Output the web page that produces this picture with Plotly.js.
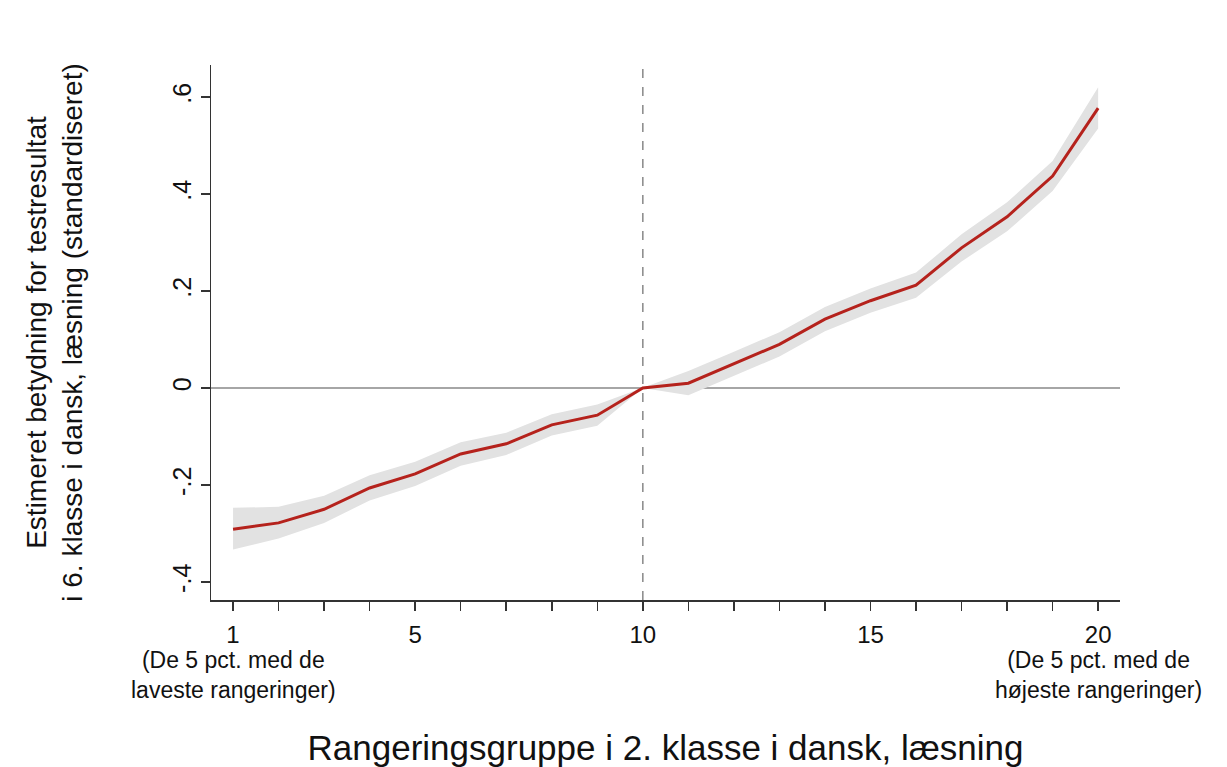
<!DOCTYPE html>
<html>
<head>
<meta charset="utf-8">
<script src="https://cdn.plot.ly/plotly-3.0.1.min.js"></script>
<style>html,body{margin:0;padding:0;background:#fff;}#chart{width:1227px;height:767px;}</style>
</head>
<body>
<div id="chart"></div>
<script>
const groups = [1,2,3,4,5,6,7,8,9,10,11,12,13,14,15,16,17,18,19,20];
const estimate = [-0.291,-0.278,-0.25,-0.206,-0.177,-0.136,-0.115,-0.076,-0.056,0,0.01,0.05,0.09,0.142,0.18,0.212,0.289,0.353,0.437,0.577];
const upper = [-0.247,-0.245,-0.222,-0.18,-0.152,-0.112,-0.092,-0.054,-0.034,0,0.035,0.075,0.115,0.167,0.205,0.238,0.317,0.383,0.468,0.62];
const lower = [-0.333,-0.31,-0.278,-0.232,-0.202,-0.16,-0.138,-0.098,-0.078,0,-0.015,0.025,0.065,0.117,0.155,0.186,0.261,0.323,0.406,0.535];
const yTickVals = [-0.4,-0.2,0,0.2,0.4,0.6];
const yTickText = ['-.4','-.2','0','.2','.4','.6'];
const xLabels = {1:'1',5:'5',10:'10',15:'15',20:'20'};
const xTickText = groups.map(g => xLabels[g] || '');
const lowNote = '(De 5 pct. med de<br>laveste rangeringer)';
const highNote = '(De 5 pct. med de<br>højeste rangeringer)';

const font = 'Liberation Sans, Arial, sans-serif';
const traces = [
  {x: groups, y: lower, mode:'lines', line:{width:0}, hoverinfo:'skip', showlegend:false},
  {x: groups, y: upper, mode:'lines', line:{width:0}, fill:'tonexty', fillcolor:'#e2e2e2', hoverinfo:'skip', showlegend:false},
  {x: groups, y: estimate, mode:'lines', line:{color:'#b5221c', width:3}, showlegend:false}
];
const annotations = [[1, lowNote], [20, highNote]].map(([gx, t]) => ({x: gx, xref:'x', y: -0.14, yref:'paper', text: t,
  showarrow:false, xanchor:'center', yanchor:'middle', align:'center', font:{size:23, family:font, color:'#111'}}));
const layout = {
  width:1227, height:767,
  margin:{l:211, r:107, t:65, b:167},
  paper_bgcolor:'#fff', plot_bgcolor:'#fff',
  font:{family:font, color:'#111'},
  xaxis:{range:[0.516,20.48], tickvals:groups, ticktext:xTickText, showgrid:false, zeroline:false,
    showline:true, linecolor:'#333', linewidth:1.5, ticks:'outside', ticklen:9, tickwidth:1.5, tickcolor:'#333',
    tickfont:{size:24, family:font}, tickangle:0, ticklabelstandoff:4,
    title:{text:'Rangeringsgruppe i 2. klasse i dansk, læsning', font:{size:35, family:font}, standoff:90}},
  yaxis:{range:[-0.437,0.666], tickvals:yTickVals, ticktext:yTickText, showgrid:false, zeroline:false,
    showline:true, linecolor:'#333', linewidth:1.5, ticks:'outside', ticklen:9, tickwidth:1.5, tickcolor:'#333',
    tickfont:{size:25, family:font}, tickangle:-90,
    title:{text:'Estimeret betydning for testresultat<br>i 6. klasse i dansk, læsning (standardiseret)', font:{size:28, family:font}, standoff:76}},
  annotations: annotations,
  shapes:[
    {type:'line', xref:'paper', yref:'y', x0:0, x1:1, y0:0, y1:0, line:{color:'#888', width:1.5}, layer:'below'},
    {type:'line', xref:'x', yref:'paper', x0:10, x1:10, y0:0, y1:1, line:{color:'#888', width:1.5, dash:'dash'}, layer:'below'}
  ]
};
Plotly.newPlot('chart', traces, layout, {displayModeBar:false, staticPlot:true});
</script>
</body>
</html>
